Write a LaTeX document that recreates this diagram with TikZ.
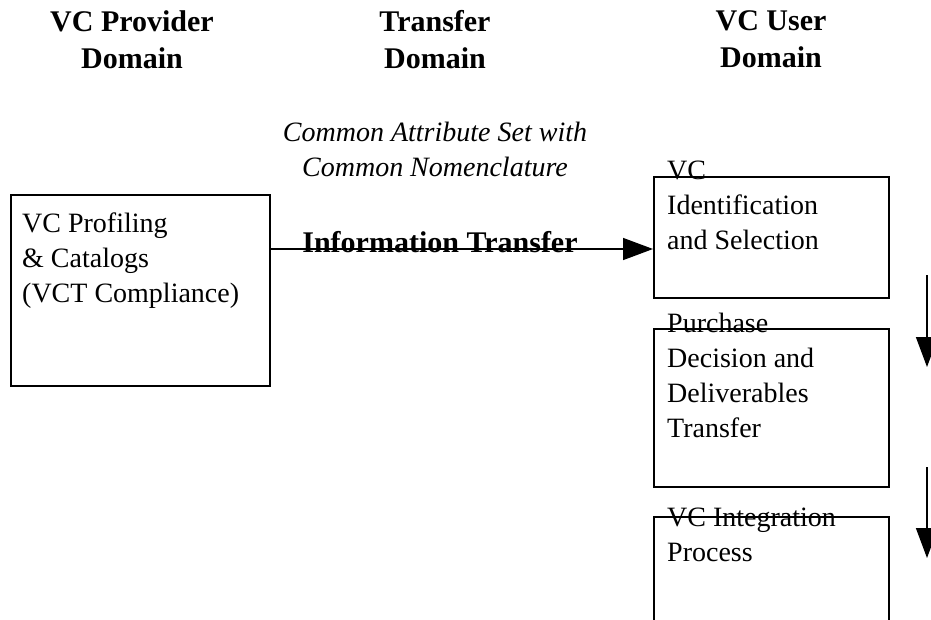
\documentclass[tikz,border=0pt]{standalone}
\usepackage{fontspec}
\setmainfont{Liberation Serif}
\usetikzlibrary{arrows.meta}
\begin{document}
\begin{tikzpicture}[x=1pt,y=-1pt,
    boite/.style={draw,line width=1.5pt,inner sep=0pt,anchor=north west},
    texte/.style={inner sep=0pt,align=left,anchor=north west,font=\fontsize{28}{35}\selectfont},
    titre/.style={inner sep=0pt,align=center,anchor=north,font=\bfseries\fontsize{30}{37}\selectfont},
    fleche/.style={line width=1.5pt,-{Triangle[length=30pt,width=22pt]}}]
    % Cadre de l'image
    \useasboundingbox (0,0) rectangle (931,619);

    % Titres des trois domaines
    \node[titre] (fourn) at (132,10) {VC Provider\\Domain};
    \node[titre] (transf) at (435,10) {Transfer\\Domain};
    \node[titre] (util) at (771,10) {VC User\\Domain};
    \node[titre,font=\itshape\fontsize{28}{35}\selectfont] (attr) at (435,122) {Common Attribute Set with\\Common Nomenclature};

    % Les boites
    \node[boite,minimum width=259pt,minimum height=191pt] (prof) at (10,194) {};
    \node[boite,minimum width=235pt,minimum height=121pt] (ident) at (653,176) {};
    \node[boite,minimum width=235pt,minimum height=158pt] (achat) at (653,328) {};
    \node[boite,minimum width=235pt,minimum height=150pt] (integ) at (653,516) {};

    % Textes des boites (ils debordent sur le bord du haut)
    \node[texte] (tprof) at (22,213) {VC Profiling\\\& Catalogs\\(VCT Compliance)};
    \node[texte] (tident) at (667,161) {VC\\Identification\\and Selection};
    \node[texte] (tachat) at (667,313) {Purchase\\Decision and\\Deliverables\\Transfer};
    \node[texte] (tinteg) at (667,508) {VC Integration\\Process};

    % Fleche du transfert
    \coordinate (mil) at (440,249);
    \node[inner sep=0pt,anchor=base,yshift=-3pt,font=\bfseries\fontsize{30}{35}\selectfont] (info) at (mil) {Information Transfer};
    \draw[fleche] (prof.east |- mil) -- (ident.west |- mil);

    % Fleches a droite
    \coordinate (d1) at (927,275);
    \coordinate (f1) at (927,367);
    \coordinate (d2) at (927,467);
    \coordinate (f2) at (927,558);
    \draw[fleche] (d1) -- (f1);
    \draw[fleche] (d2) -- (f2);
\end{tikzpicture}
\end{document}
